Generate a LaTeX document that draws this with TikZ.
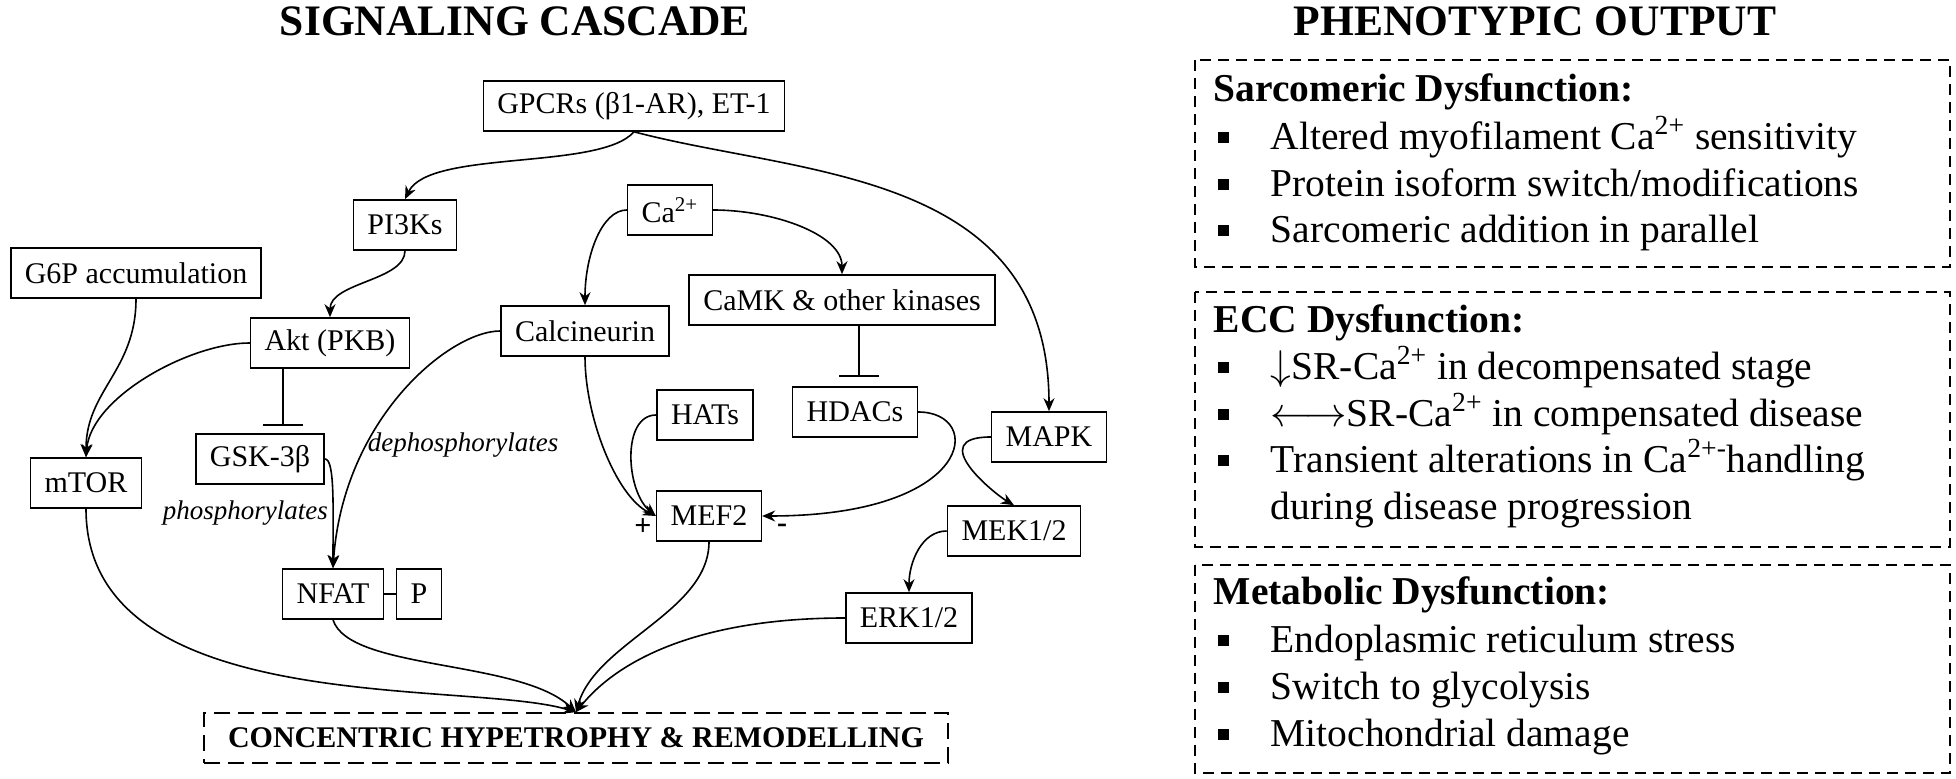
\documentclass[tikz,border=0pt]{standalone}
\usepackage{fontspec}
\setmainfont{Liberation Serif}
\usepackage{tikz}
\usetikzlibrary{arrows.meta}

\begin{document}
\begin{tikzpicture}[x=0.5pt,y=0.5pt,line width=0.8pt,
	cascadebox/.style={draw,minimum height=25pt,inner xsep=7pt,inner ysep=0pt,font=\fontsize{15}{18}\selectfont},
	outcome/.style={draw,dash pattern=on 8pt off 4pt,minimum height=25pt,minimum width=372pt,font=\fontsize{15}{18}\selectfont\bfseries},
	actarrow/.style={-{Stealth[length=6.5pt,width=5.5pt]}},
	inhibit/.style={-{Bar[width=20pt]}},
	panelframe/.style={line width=0.8pt,dash pattern=on 5.5pt off 3.5pt},
	paneltitle/.style={font=\fontsize{21.75}{26}\selectfont\bfseries,anchor=base,inner sep=0pt},
	panelhead/.style={font=\fontsize{19.75}{24}\selectfont\bfseries,anchor=base west,inner sep=0pt},
	panelitem/.style={font=\fontsize{19.75}{24}\selectfont,anchor=base west,inner sep=0pt},
	bulletmark/.style={fill,minimum size=5.5pt,inner sep=0pt},
	actionlabel/.style={font=\fontsize{13.5}{16}\selectfont\itshape,anchor=base west,inner sep=0pt},
	signlabel/.style={font=\fontsize{15}{18}\selectfont\bfseries,inner sep=0pt}]
	
	\useasboundingbox (0,0) rectangle (1956,-779);
	
	\node[paneltitle] (lefttitle) at (515,-36) {SIGNALING CASCADE};
	\node[paneltitle] (righttitle) at (1535,-36) {PHENOTYPIC OUTPUT};
	
	\node[cascadebox] (gpcr) at (634,-106) {GPCRs (β1-AR), ET-1};
	\node[cascadebox] (pi3k) at (405,-225) {PI3Ks};
	\node[cascadebox] (ca) at (670,-210) {Ca\textsuperscript{2+}};
	\node[cascadebox] (g6p) at (136,-273) {G6P accumulation};
	\node[cascadebox] (akt) at (330,-343) {Akt (PKB)};
	\node[cascadebox] (calcineurin) at (585,-331) {Calcineurin};
	\node[cascadebox] (camk) at (842,-300) {CaMK \& other kinases};
	\node[cascadebox] (hats) at (705,-415) {HATs};
	\node[cascadebox] (hdacs) at (855,-412) {HDACs};
	\node[cascadebox] (mapk) at (1049,-437) {MAPK};
	\node[cascadebox] (gsk) at (260,-459) {GSK-3β};
	\node[cascadebox] (mtor) at (86,-483) {mTOR};
	\node[cascadebox] (mef) at (709,-516) {MEF2};
	\node[cascadebox] (mek) at (1014,-531) {MEK1/2};
	\node[cascadebox] (nfat) at (333,-594) {NFAT};
	\node[cascadebox] (phos) at (419,-594) {P};
	\node[cascadebox] (erk) at (909,-618) {ERK1/2};
	\node[outcome] (hyper) at (576,-738) {CONCENTRIC HYPETROPHY \& REMODELLING};
	
	\draw[actarrow] (gpcr.south) .. controls +(-34,-39) and +(24,50) .. (pi3k.north);
	\draw[actarrow] (gpcr.south) .. controls +(166,-44) and +(0,242) .. (mapk.north);
	\draw[actarrow] (pi3k.south) .. controls +(0,-30) and +(0,35) .. (akt.north);
	\draw[actarrow] (ca.west) .. controls +(-25,0) and +(0,50) .. (calcineurin.north);
	\draw[actarrow] (ca.east) .. controls +(60,0) and +(0,40) .. (camk.north);
	\draw[actarrow] (g6p.south) .. controls +(0,-72) and +(0,67) .. (mtor.north);
	\draw[actarrow] (akt.west) .. controls +(-60,0) and +(5,60) .. (mtor.north);
	
	\coordinate (gskbar) at (283,-426);
	\coordinate (hdacbar) at (859,-377);
	\draw[inhibit] (akt.south -| gskbar) -- (gskbar);
	\draw[inhibit] (camk.south -| hdacbar) -- (hdacbar);
	
	\draw[actarrow] (calcineurin.west) .. controls +(-51,0) and +(10,149) .. (nfat.north);
	\draw[actarrow] (gsk.east) .. controls +(10,0) and +(0,60) .. (nfat.north);
	\draw (nfat.east) -- (phos.west);
	\node[actionlabel] (dephos) at (367,-452) {dephosphorylates};
	\node[actionlabel] (phosph) at (162,-520) {phosphorylates};
	
	\draw[actarrow] (calcineurin.south) .. controls +(0,-60) and +(-40,20) .. (mef.west);
	\draw[actarrow] (hats.west) .. controls +(-35,0) and +(-30,25) .. (mef.west);
	\draw[actarrow] (hdacs.east) .. controls +(67,0) and +(213,0) .. (mef.east);
	\node[signlabel] (plus) at (643,-527) {+};
	\node[signlabel] (minus) at (782,-528) {-};
	
	\draw[actarrow] (mapk.west) .. controls +(-67,0) and +(-19,11) .. (mek.north);
	\draw[actarrow] (mek.west) .. controls +(-25,0) and +(0,30) .. (erk.north);
	
	\draw[actarrow] (mtor.south) .. controls +(0,-212) and +(-106,33) .. (hyper.north);
	\draw[actarrow] (nfat.south) .. controls +(16,-51) and +(-56,53) .. (hyper.north);
	\draw[actarrow] (mef.south) .. controls +(0,-70) and +(20,70) .. (hyper.north);
	\draw[actarrow] (erk.west) .. controls +(-150,0) and +(40,50) .. (hyper.north);
	
	\draw[panelframe] (1195,-60) rectangle (1950,-267);
	\draw[panelframe] (1195,-292) rectangle (1950,-547);
	\draw[panelframe] (1195,-565) rectangle (1950,-773);
	
	\foreach \y in {150,197,243,380,427,473,653,700,747}
		\node[bulletmark] (bullet\y) at (1223,{12-\y}) {};
	
	\node[panelhead] (sarchead) at (1213,-102) {Sarcomeric Dysfunction:};
	\node[panelitem] (sarc1) at (1270,-150) {Altered myofilament Ca\textsuperscript{2+} sensitivity};
	\node[panelitem] (sarc2) at (1270,-197) {Protein isoform switch/modifications};
	\node[panelitem] (sarc3) at (1270,-243) {Sarcomeric addition in parallel};
	
	\node[panelhead] (ecchead) at (1213,-333) {ECC Dysfunction:};
	\node[panelitem] (ecc1) at (1270,-380) {$\downarrow$SR-Ca\textsuperscript{2+} in decompensated stage};
	\node[panelitem] (ecc2) at (1270,-427) {$\longleftrightarrow$SR-Ca\textsuperscript{2+} in compensated disease};
	\node[panelitem] (ecc3) at (1270,-473) {Transient alterations in Ca\textsuperscript{2+-}handling};
	\node[panelitem] (ecc4) at (1270,-520) {during disease progression};
	
	\node[panelhead] (methead) at (1213,-605) {Metabolic Dysfunction:};
	\node[panelitem] (met1) at (1270,-653) {Endoplasmic reticulum stress};
	\node[panelitem] (met2) at (1270,-700) {Switch to glycolysis};
	\node[panelitem] (met3) at (1270,-747) {Mitochondrial damage};
	
\end{tikzpicture}
\end{document}
